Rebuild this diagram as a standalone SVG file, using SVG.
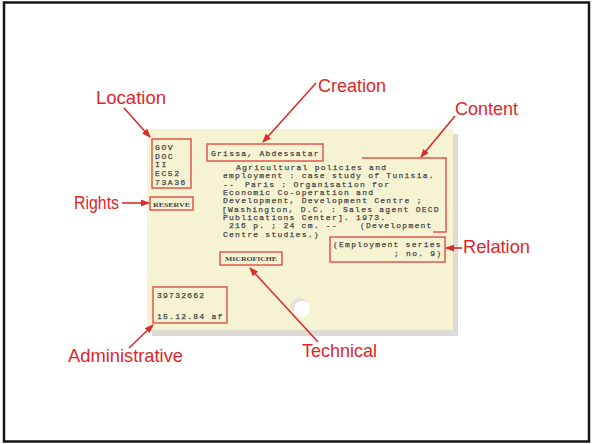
<svg xmlns="http://www.w3.org/2000/svg" width="592" height="444" viewBox="0 0 592 444">
  <style>
    .frame { fill: #ffffff; stroke: #151515; stroke-width: 2.5; }
    .card { fill: #f6f3d2; }
    .shadow { fill: #dcdcd4; }
    .tw { font-family: "Liberation Mono", "DejaVu Sans Mono", monospace; font-size: 8px; letter-spacing: 1.25px; fill: #474747; stroke: #474747; stroke-width: 0.25; }
    .stamp { font-family: "Liberation Serif", "DejaVu Serif", serif; font-weight: bold; font-size: 7px; fill: #454545; }
    .box { fill: none; stroke: #e2574c; stroke-width: 1.5; }
    .label { font-family: "Liberation Sans", Arial, sans-serif; font-size: 18.5px; fill: #e0262b; }
    .conn { fill: none; stroke: #dc2b2b; stroke-width: 1.6; marker-end: url(#arrow); }
  </style>
  <defs>
    <marker id="arrow" markerUnits="userSpaceOnUse" markerWidth="9" markerHeight="7" refX="8" refY="3.5" orient="auto">
      <path d="M0,0 L9,3.5 L0,7 z" fill="#dc2b2b"/>
    </marker>
  </defs>

  <rect class="frame" x="4" y="2.5" width="585" height="439"/>

  <!-- catalogue card with drop shadow and punch hole -->
  <g id="card">
    <rect class="shadow" x="152" y="134" width="306" height="202"/>
    <rect class="card" x="147" y="129" width="306" height="201"/>
    <circle cx="299" cy="306" r="8" fill="#e0e0dc"/>
    <circle cx="302" cy="309" r="8" fill="#ffffff"/>
  </g>

  <g id="location">
    <rect class="box" x="152" y="139" width="39" height="49"/>
    <text class="tw" x="155" y="150" style="letter-spacing:1.6px">GOV</text>
    <text class="tw" x="155" y="158.7" style="letter-spacing:1.6px">DOC</text>
    <text class="tw" x="155" y="167.4" style="letter-spacing:1.6px">II</text>
    <text class="tw" x="155" y="176.1" style="letter-spacing:1.6px">EC52</text>
    <text class="tw" x="155" y="184.8" style="letter-spacing:1.6px">73A36</text>
    <text class="label" x="96" y="104" textLength="70" lengthAdjust="spacingAndGlyphs">Location</text>
  </g>

  <g id="rights">
    <rect class="box" x="150" y="197" width="43" height="13"/>
    <text class="stamp" x="153" y="206.5" textLength="37" lengthAdjust="spacingAndGlyphs">RESERVE</text>
    <text class="label" x="74" y="209" textLength="45" lengthAdjust="spacingAndGlyphs">Rights</text>
  </g>

  <g id="creation">
    <rect class="box" x="207" y="144" width="116" height="17"/>
    <text class="tw" x="211" y="155.5">Grissa, Abdessatar</text>
    <text class="label" x="318" y="92" textLength="68" lengthAdjust="spacingAndGlyphs">Creation</text>
  </g>

  <g id="content">
    <polyline class="box" points="362,158 446,158 446,232 433,232"/>
    <text class="tw" x="236" y="170">Agricultural policies and</text>
    <text class="tw" x="223" y="178.3">employment : case study of Tunisia.</text>
    <text class="tw" x="223" y="186.6">--</text>
    <text class="tw" x="245" y="186.6">Paris : Organisation for</text>
    <text class="tw" x="223" y="195">Economic Co-operation and</text>
    <text class="tw" x="223" y="203.3">Development, Development Centre ;</text>
    <text class="tw" x="222" y="211.6">[Washington, D.C. : Sales agent OECD</text>
    <text class="tw" x="223" y="220">Publications Center]. 1973.</text>
    <text class="tw" x="229" y="228.3">216 p. ; 24 cm. --</text>
    <text class="tw" x="360" y="228.3">(Development</text>
    <text class="tw" x="223" y="236.6">Centre studies.)</text>
    <text class="label" x="455" y="115" textLength="63" lengthAdjust="spacingAndGlyphs">Content</text>
  </g>

  <g id="relation">
    <rect class="box" x="330" y="237" width="115" height="25"/>
    <text class="tw" x="333" y="247">(Employment series</text>
    <text class="tw" x="394" y="256">; no. 9)</text>
    <text class="label" x="463" y="253" textLength="67" lengthAdjust="spacingAndGlyphs">Relation</text>
  </g>

  <g id="technical">
    <rect class="box" x="220" y="252" width="62" height="13"/>
    <text class="stamp" x="225" y="261.3" textLength="52" lengthAdjust="spacingAndGlyphs">MICROFICHE</text>
    <text class="label" x="302" y="357" textLength="75" lengthAdjust="spacingAndGlyphs">Technical</text>
  </g>

  <g id="administrative">
    <rect class="box" x="153" y="287" width="74" height="36"/>
    <text class="tw" x="157" y="298">39732662</text>
    <text class="tw" x="157" y="318.5">15.12.84 af</text>
    <text class="label" x="68" y="362" textLength="115" lengthAdjust="spacingAndGlyphs">Administrative</text>
  </g>

  <!-- pointers from each label to its field on the card -->
  <g id="connectors">
    <line class="conn" x1="124" y1="108" x2="150" y2="137"/>
    <line class="conn" x1="122" y1="203" x2="149" y2="203"/>
    <line class="conn" x1="316" y1="83" x2="263" y2="142"/>
    <line class="conn" x1="455" y1="116" x2="421" y2="157"/>
    <line class="conn" x1="462" y1="248" x2="446" y2="248"/>
    <line class="conn" x1="318" y1="342" x2="250" y2="268"/>
    <line class="conn" x1="129" y1="348" x2="153" y2="325"/>
  </g>
</svg>
